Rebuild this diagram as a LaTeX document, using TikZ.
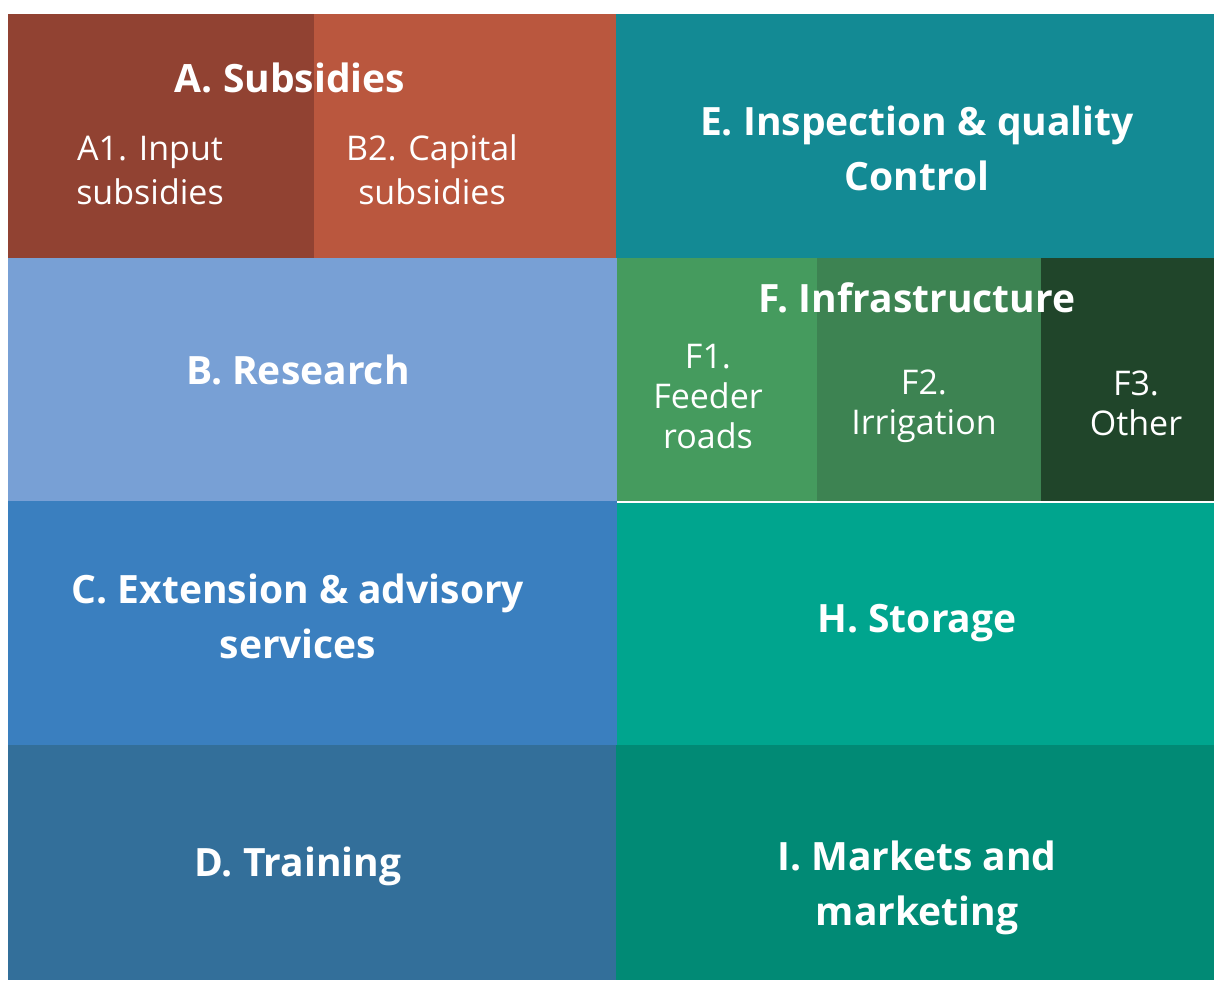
\documentclass[tikz,border=0pt]{standalone}
\usepackage{fontspec}
\setmainfont{Open Sans}
\newfontfamily\headfont{Open Sans}[UprightFont=*, BoldFont=* Bold]
\newfontfamily\subfont{Open Sans}
\definecolor{cA}{HTML}{914232}
\definecolor{cAb}{HTML}{BA573E}
\definecolor{cE}{HTML}{138A94}
\definecolor{cB}{HTML}{78A0D5}
\definecolor{cFa}{HTML}{459B5E}
\definecolor{cFb}{HTML}{3D8352}
\definecolor{cFc}{HTML}{20452A}
\definecolor{cC}{HTML}{3A7FBF}
\definecolor{cH}{HTML}{00A58E}
\definecolor{cD}{HTML}{336F9A}
\definecolor{cI}{HTML}{018A75}
\tikzset{
  head/.style={text=white, align=center, font=\headfont\bfseries\fontsize{39}{55}\selectfont, inner sep=0pt},
  sub/.style={text=white, align=center, font=\subfont\fontsize{34}{44}\selectfont, inner sep=0pt},
}
\begin{document}
\begin{tikzpicture}[x=1pt,y=1pt]
\useasboundingbox (0,0) rectangle (1214,-980);
\fill[white] (0,0) rectangle (1214,-980);
% cells of the grid
\fill[cA]  (8,-14)   rectangle (314,-258);
\fill[cAb] (314,-14) rectangle (616,-258);
\fill[cE]  (616,-14) rectangle (1214,-258);
\fill[cB]  (8,-258)  rectangle (617,-501);
\fill[cFa] (617,-258) rectangle (817,-501);
\fill[cFb] (817,-258) rectangle (1041,-501);
\fill[cFc] (1041,-258) rectangle (1214,-501);
\fill[cC]  (8,-501)  rectangle (617,-745);
\fill[cH]  (617,-502) rectangle (1214,-745);
\fill[white] (617,-501) rectangle (1214,-502.5);
\fill[cD]  (8,-745)  rectangle (616,-980);
\fill[cI]  (616,-745) rectangle (1214,-980);
% labels
\node[head] (A)  at (290,-78)  {A. Subsidies};
\node[sub]  (A1) at (150,-170) {A1. Input\\subsidies};
\node[sub]  (A2) at (432,-170) {B2. Capital\\subsidies};
\node[head] (E)  at (917,-148) {E. Inspection \& quality\\Control};
\node[head] (B)  at (298,-370) {B. Research};
\node[head] (F)  at (917,-298) {F. Infrastructure};
\node[sub]  (F1) at (708,-397) {F1.\\[-4pt]Feeder\\[-4pt]roads};
\node[sub]  (F2) at (924,-406) {F2.\\[-4pt]Irrigation};
\node[sub]  (F3) at (1136,-403) {F3.\\[-4pt]Other};
\node[head] (C)  at (298,-616) {C. Extension \& advisory\\services};
\node[head] (H)  at (917,-623) {H. Storage};
\node[head] (D)  at (298,-866) {D. Training};
\node[head] (I)  at (917,-888) {I. Markets and\\marketing};
\end{tikzpicture}
\end{document}
